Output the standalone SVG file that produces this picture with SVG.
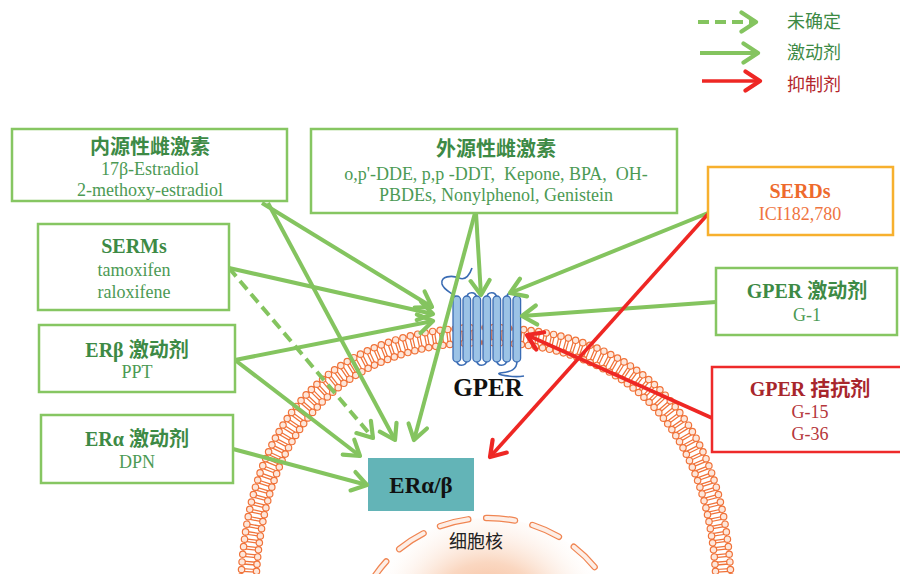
<svg xmlns="http://www.w3.org/2000/svg" width="900" height="574" viewBox="0 0 900 574">
  <defs>
    <radialGradient id="nucFill" gradientUnits="userSpaceOnUse" cx="488" cy="625" r="125">
      <stop offset="0" stop-color="#f39a68" stop-opacity="0.95"/>
      <stop offset="0.5" stop-color="#f8c6a6" stop-opacity="0.7"/>
      <stop offset="1" stop-color="#ffffff" stop-opacity="0"/>
    </radialGradient>
    <marker id="headG" markerUnits="userSpaceOnUse" viewBox="-18 -12 21 24" markerWidth="21" markerHeight="24" refX="0" refY="0" orient="auto">
      <path d="M -14.5 -9.5 L 0 0 L -14.5 9.5" fill="none" stroke="#84c45f" stroke-width="4.2" stroke-linecap="round" stroke-linejoin="round"/>
    </marker>
    <marker id="headR" markerUnits="userSpaceOnUse" viewBox="-18 -12 21 24" markerWidth="21" markerHeight="24" refX="0" refY="0" orient="auto">
      <path d="M -14.5 -9.5 L 0 0 L -14.5 9.5" fill="none" stroke="#ee2724" stroke-width="4.2" stroke-linecap="round" stroke-linejoin="round"/>
    </marker>
    <style>
      .box { fill: #ffffff; stroke-width: 2.5; }
      .bg { stroke: #86c662; }
      .br { stroke: #ee2a2a; }
      .bo { stroke: #f7b02e; }
      .t { font-family: "Liberation Serif", "Noto Sans CJK SC", serif; text-anchor: middle; }
      .h { font-size: 20px; font-weight: bold; }
      .s { font-size: 18px; }
      .gh { fill: #3d8a45; }
      .gs { fill: #4c9a54; }
      .rh { fill: #a8262c; }
      .rs { fill: #b5363a; }
      .oh { fill: #ee6a2c; }
      .os { fill: #ef7440; }
      .lg { font-family: "Noto Sans CJK SC", sans-serif; font-size: 18px; }
      .ar { fill: none; stroke-width: 4; stroke-linecap: butt; }
      .ag { stroke: #84c45f; marker-end: url(#headG); }
      .ad { stroke-dasharray: 11 6; }
      .arr { stroke: #ee2724; stroke-width: 3.6; marker-end: url(#headR); }
      .helix { fill: #9cc3e6; stroke: #3a6cb4; stroke-width: 1.3; }
      .loop { fill: none; stroke: #3a6cb4; stroke-width: 1.6; }
    </style>
  </defs>

  <!-- nucleus -->
  <g id="nucleus">
    <ellipse cx="488" cy="640" rx="133" ry="122" fill="url(#nucFill)"/>
    <ellipse cx="488" cy="640" rx="133" ry="122" fill="none" stroke="#f08552" stroke-width="6.5" stroke-dasharray="29 18" stroke-dashoffset="12" stroke-linecap="round"/>
    <ellipse cx="488" cy="640" rx="133" ry="122" fill="none" stroke="#fdeee6" stroke-width="4" stroke-dasharray="29 18" stroke-dashoffset="12" stroke-linecap="round"/>
    <text x="476" y="548" font-family="Noto Sans CJK SC, sans-serif" font-size="18" fill="#222222" text-anchor="middle">细胞核</text>
  </g>

  <!-- cell membrane (lipid bilayer) -->
  <g id="membrane">
    <path d="M 248 600 C 249 410, 350 335, 485 335 C 620 335, 723 410, 724 600" fill="none" stroke="#f0733a" stroke-width="13" pathLength="110" stroke-dasharray="0.17 0.2 0.17 0.46" stroke-dashoffset="0.27"/>
    <path d="M 240.5 600 C 241.5 404, 345 327.5, 485 327.5 C 625 327.5, 730.5 404, 731.5 600" fill="none" stroke="#f0733a" stroke-width="7.6" stroke-linecap="round" pathLength="110" stroke-dasharray="0 1"/>
    <path d="M 240.5 600 C 241.5 404, 345 327.5, 485 327.5 C 625 327.5, 730.5 404, 731.5 600" fill="none" stroke="#fde6da" stroke-width="5.2" stroke-linecap="round" pathLength="110" stroke-dasharray="0 1"/>
    <path d="M 255.5 600 C 256.5 416, 355 342.5, 485 342.5 C 615 342.5, 715.5 416, 716.5 600" fill="none" stroke="#f0733a" stroke-width="7.6" stroke-linecap="round" pathLength="110" stroke-dasharray="0 1"/>
    <path d="M 255.5 600 C 256.5 416, 355 342.5, 485 342.5 C 615 342.5, 715.5 416, 716.5 600" fill="none" stroke="#fde6da" stroke-width="5.2" stroke-linecap="round" pathLength="110" stroke-dasharray="0 1"/>
  </g>

  <!-- GPER: seven-transmembrane receptor -->
  <g id="gper">
    <path class="loop" d="M 456.8 298 C 452 292, 444 291, 442 284 C 440 276, 452 275, 459 278 C 466 281, 470 274, 472 268"/>
    <path class="loop" d="M 466.8 298 C 467 291, 476 291, 476.8 298"/>
    <path class="loop" d="M 486.8 298 C 487 291, 496 291, 496.8 298"/>
    <path class="loop" d="M 506.8 298 C 507 291, 516 291, 516.8 298"/>
    <path class="loop" d="M 456.8 360 C 457 367, 466 367, 466.8 360"/>
    <path class="loop" d="M 476.8 360 C 477 367, 486 367, 486.8 360"/>
    <path class="loop" d="M 496.8 360 C 497 367, 506 367, 506.8 360"/>
    <path class="loop" d="M 516.8 360 C 518 370, 510 372, 500 373 C 494 374, 512 378, 524 376"/>
    <rect class="helix" x="453" y="296" width="7.6" height="66" rx="3.8"/>
    <rect class="helix" x="463" y="296" width="7.6" height="66" rx="3.8"/>
    <rect class="helix" x="473" y="296" width="7.6" height="66" rx="3.8"/>
    <rect class="helix" x="483" y="296" width="7.6" height="66" rx="3.8"/>
    <rect class="helix" x="493" y="296" width="7.6" height="66" rx="3.8"/>
    <rect class="helix" x="503" y="296" width="7.6" height="66" rx="3.8"/>
    <rect class="helix" x="513" y="296" width="7.6" height="66" rx="3.8"/>
    <text class="t" x="488" y="396" font-size="25" font-weight="bold" fill="#111111">GPER</text>
  </g>

  <!-- nuclear estrogen receptor -->
  <g id="er">
    <rect x="368" y="458" width="106" height="53" fill="#63b4b7"/>
    <text class="t" x="421" y="493" font-size="23" font-weight="bold" fill="#111111">ERα/β</text>
  </g>

  <!-- connectors -->
  <g id="connectors">
    <line class="ar ag" x1="262" y1="203" x2="432" y2="307"/>
    <line class="ar ag" x1="268" y1="203" x2="395" y2="440"/>
    <line class="ar ag" x1="229" y1="268" x2="433" y2="314"/>
    <line class="ar ag ad" x1="229" y1="268" x2="373" y2="438"/>
    <line class="ar ag" x1="235" y1="360" x2="433" y2="321"/>
    <line class="ar ag" x1="235" y1="360" x2="360" y2="456"/>
    <line class="ar ag" x1="233" y1="449" x2="367" y2="485"/>
    <line class="ar ag" x1="476" y1="213" x2="481" y2="295"/>
    <line class="ar ag" x1="475" y1="213" x2="414" y2="440"/>
    <line class="ar ag" x1="708" y1="213" x2="510" y2="293"/>
    <line class="ar ag" x1="716" y1="302" x2="522" y2="316"/>
    <line class="ar arr" x1="708" y1="214" x2="490" y2="457"/>
    <line class="ar arr" x1="712" y1="418" x2="527" y2="335"/>
  </g>

  <!-- legend -->
  <g id="legend">
    <line class="ar ag ad" x1="698" y1="22" x2="756" y2="22" stroke-dasharray="10 5"/>
    <line class="ar ag" x1="700" y1="53" x2="758" y2="53"/>
    <line class="ar arr" x1="702" y1="81" x2="760" y2="81"/>
    <text class="lg" x="787" y="28" fill="#3d8a45">未确定</text>
    <text class="lg" x="787" y="59" fill="#3d8a45">激动剂</text>
    <text class="lg" x="787" y="91" fill="#b3262b">抑制剂</text>
  </g>

  <!-- ligand boxes -->
  <g id="endogenous">
    <rect class="box bg" x="12" y="129" width="275" height="72"/>
    <text class="t h gh" x="150" y="154">内源性雌激素</text>
    <text class="t s gs" x="150" y="175">17β-Estradiol</text>
    <text class="t s gs" x="150" y="196">2-methoxy-estradiol</text>
  </g>
  <g id="exogenous">
    <rect class="box bg" x="311" y="129" width="366" height="84"/>
    <text class="t h gh" x="496" y="156">外源性雌激素</text>
    <text class="t s gs" x="496" y="180" xml:space="preserve">o,p'-DDE, p,p -DDT,  Kepone, BPA,  OH-</text>
    <text class="t s gs" x="496" y="201">PBDEs, Nonylphenol, Genistein</text>
  </g>
  <g id="serms">
    <rect class="box bg" x="38" y="224" width="191" height="86"/>
    <text class="t h gh" x="134" y="253">SERMs</text>
    <text class="t s gs" x="134" y="276">tamoxifen</text>
    <text class="t s gs" x="134" y="298">raloxifene</text>
  </g>
  <g id="erb-agonist">
    <rect class="box bg" x="39" y="325" width="196" height="67"/>
    <text class="t h gh" x="137" y="357">ERβ 激动剂</text>
    <text class="t s gs" x="137" y="378">PPT</text>
  </g>
  <g id="era-agonist">
    <rect class="box bg" x="41" y="415" width="192" height="68"/>
    <text class="t h gh" x="137" y="446">ERα 激动剂</text>
    <text class="t s gs" x="137" y="468">DPN</text>
  </g>
  <g id="serds">
    <rect class="box bo" x="708" y="167" width="185" height="68"/>
    <text class="t h oh" x="800" y="198">SERDs</text>
    <text class="t s os" x="800" y="220">ICI182,780</text>
  </g>
  <g id="gper-agonist">
    <rect class="box bg" x="716" y="268" width="181" height="67"/>
    <text class="t h gh" x="807" y="298">GPER 激动剂</text>
    <text class="t s gs" x="807" y="321">G-1</text>
  </g>
  <g id="gper-antagonist">
    <rect class="box br" x="712" y="367" width="200" height="85"/>
    <text class="t h rh" x="810" y="396">GPER 拮抗剂</text>
    <text class="t s rs" x="810" y="418">G-15</text>
    <text class="t s rs" x="810" y="440">G-36</text>
  </g>
</svg>
